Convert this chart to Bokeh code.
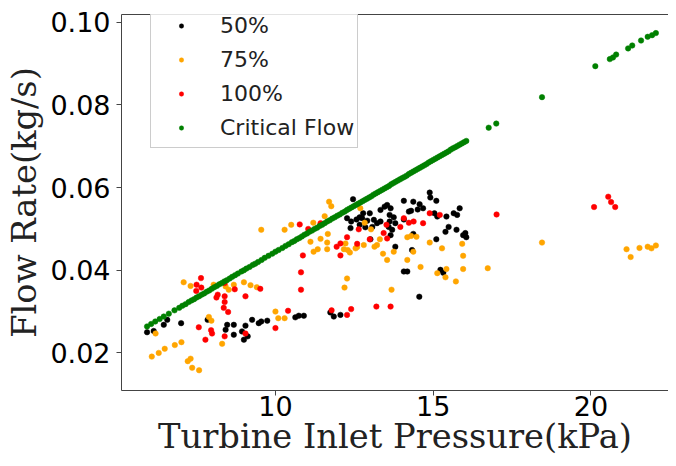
from bokeh.plotting import figure
from bokeh.models import Range1d, FixedTicker, PrintfTickFormatter, LinearAxis, Legend, LegendItem
from bokeh.embed import file_html
from bokeh.resources import INLINE

# ---- data ----
x_50 = [5.93, 6.14, 6.46, 6.57, 7.01, 7.85, 8.42, 8.47, 8.68, 8.68, 8.94, 9.05, 9.00, 9.12, 9.26, 9.47,
        9.55, 9.74, 10.63, 10.74, 10.90, 11.74, 11.85, 12.06, 12.46, 12.27, 12.40, 12.57, 12.67, 12.78,
        12.99, 12.91, 13.12, 13.22, 13.33, 13.46, 13.54, 13.65, 13.62, 13.75, 13.62, 13.80, 13.59, 13.70,
        13.65, 14.07, 14.37, 14.57, 14.68, 14.51, 14.30, 14.07, 14.23, 14.89, 14.91, 15.10, 15.84, 15.65,
        15.76, 15.13, 15.04, 15.42, 15.49, 15.39, 15.74, 16.02, 16.05, 15.95, 12.38, 12.67, 13.01, 14.37,
        15.10, 13.80, 14.33, 14.07, 14.18, 15.23, 15.32, 14.56, 12.75, 13.07, 12.85, 13.33]
y_50 = [0.0250, 0.0253, 0.0268, 0.0280, 0.0272, 0.0280, 0.0256, 0.0268, 0.0268, 0.0244, 0.0252, 0.0266,
        0.0232, 0.0240, 0.0280, 0.0272, 0.0276, 0.0278, 0.0286, 0.0290, 0.0290, 0.0298, 0.0288, 0.0292,
        0.0572, 0.0526, 0.0518, 0.0523, 0.0528, 0.0538, 0.0538, 0.0520, 0.0522, 0.0514, 0.0518, 0.0554,
        0.0558, 0.0550, 0.0534, 0.0528, 0.0518, 0.0514, 0.0505, 0.0498, 0.0485, 0.0568, 0.0566, 0.0560,
        0.0550, 0.0547, 0.0544, 0.0523, 0.0542, 0.0588, 0.0576, 0.0568, 0.0550, 0.0538, 0.0534, 0.0530,
        0.0538, 0.0530, 0.0505, 0.0493, 0.0498, 0.0490, 0.0480, 0.0485, 0.0502, 0.0510, 0.0475, 0.0488,
        0.0475, 0.0457, 0.0449, 0.0397, 0.0397, 0.0401, 0.0394, 0.0336, 0.0526, 0.0505, 0.0504, 0.0546]

x_75 = [7.09, 7.31, 8.04, 8.42, 8.52, 8.68, 9.00, 9.21, 9.41, 6.20, 7.89, 7.97, 8.31, 10.00, 10.09, 10.29,
        6.08, 6.30, 6.49, 6.81, 7.02, 7.22, 7.31, 7.36, 7.58, 11.70, 11.77, 11.56, 11.20, 11.43, 10.50,
        10.29, 9.55, 11.66, 11.11, 11.43, 11.64, 11.64, 11.34, 11.21, 12.22, 12.29, 12.17, 12.36, 12.59,
        12.83, 12.80, 13.14, 13.22, 12.27, 12.19, 12.69, 13.03, 12.54, 13.31, 14.18, 14.30, 14.47, 14.89,
        15.28, 15.92, 13.41, 13.54, 13.75, 14.18, 14.37, 14.60, 15.42, 15.13, 15.39, 15.95, 15.95, 15.72,
        16.73, 18.45, 21.13, 21.26, 21.54, 21.80, 21.92, 22.06, 13.68]
y_75 = [0.0371, 0.0362, 0.0365, 0.0361, 0.0353, 0.0365, 0.0371, 0.0364, 0.0359, 0.0247, 0.0287, 0.0278,
        0.0222, 0.0300, 0.0284, 0.0284, 0.0191, 0.0200, 0.0210, 0.0219, 0.0226, 0.0180, 0.0186, 0.0164,
        0.0158, 0.0566, 0.0555, 0.0531, 0.0515, 0.0511, 0.0510, 0.0498, 0.0498, 0.0488, 0.0469, 0.0476,
        0.0467, 0.0451, 0.0451, 0.0445, 0.0465, 0.0449, 0.0451, 0.0443, 0.0456, 0.0515, 0.0461, 0.0457,
        0.0461, 0.0380, 0.0358, 0.0550, 0.0499, 0.0453, 0.0475, 0.0480, 0.0483, 0.0481, 0.0467, 0.0453,
        0.0464, 0.0440, 0.0425, 0.0445, 0.0425, 0.0445, 0.0408, 0.0403, 0.0393, 0.0383, 0.0435, 0.0403,
        0.0373, 0.0405, 0.0467, 0.0451, 0.0432, 0.0454, 0.0457, 0.0453, 0.0460, 0.0353]

x_100 = [7.64, 7.50, 7.65, 7.49, 8.13, 8.17, 8.39, 8.39, 8.36, 8.50, 8.71, 9.05, 9.52, 8.39, 7.57, 7.96,
         7.99, 7.78, 8.39, 9.05, 10.00, 10.40, 10.77, 11.04, 11.43, 12.27, 12.06, 11.94, 12.06, 12.59,
         12.64, 12.99, 10.87, 10.81, 10.81, 11.78, 12.27, 12.40, 13.20, 13.65, 14.89, 15.21, 14.68, 14.07,
         14.23, 14.38, 13.52, 13.43, 13.54, 17.01, 20.10, 20.55, 20.64, 20.77, 13.96]
y_100 = [0.0381, 0.0365, 0.0358, 0.0350, 0.0334, 0.0341, 0.0337, 0.0323, 0.0309, 0.0299, 0.0354, 0.0337,
         0.0355, 0.0369, 0.0262, 0.0255, 0.0247, 0.0232, 0.0240, 0.0247, 0.0260, 0.0302, 0.0511, 0.0500,
         0.0514, 0.0480, 0.0465, 0.0457, 0.0436, 0.0464, 0.0499, 0.0475, 0.0436, 0.0395, 0.0353, 0.0303,
         0.0292, 0.0306, 0.0312, 0.0312, 0.0538, 0.0534, 0.0514, 0.0526, 0.0515, 0.0518, 0.0510, 0.0490,
         0.0477, 0.0535, 0.0553, 0.0578, 0.0565, 0.0553, 0.0505]

x_crit = [5.93, 6.06, 6.19, 6.33, 6.46, 6.62, 6.80, 6.95, 7.05, 7.15, 7.25, 7.34, 7.42, 7.50, 7.58, 7.66,
          7.74, 7.82, 7.90, 7.98, 8.06, 8.14, 8.22, 8.30, 8.38, 8.46, 8.55, 8.63, 8.72, 8.81, 8.92, 9.00,
          9.08, 9.18, 9.28, 9.36, 9.45, 9.56, 9.66, 9.78, 9.90, 10.00, 10.10, 10.22, 10.32, 10.42, 10.52,
          10.60, 10.68, 10.76, 10.84, 10.92, 11.00, 11.08, 11.16, 11.24, 11.32, 11.40, 11.48, 11.56, 11.64,
          11.72, 11.80, 11.88, 11.96, 12.04, 12.12, 12.20, 12.27, 12.34, 12.41, 12.48, 12.55, 12.62, 12.69,
          12.76, 12.83, 12.90, 12.97, 13.04, 13.11, 13.18, 13.25, 13.32, 13.39, 13.46, 13.53, 13.60, 13.67,
          13.74, 13.81, 13.88, 13.95, 14.02, 14.09, 14.16, 14.23, 14.30, 14.37, 14.44, 14.51, 14.58, 14.65,
          14.72, 14.79, 14.86, 14.93, 15.00, 15.07, 15.14, 15.21, 15.28, 15.35, 15.42, 15.49, 15.56, 15.63,
          15.70, 15.77, 15.84, 15.91, 15.98, 16.05,
          16.76, 17.00, 18.45, 20.14, 20.60, 20.70, 20.80, 21.18, 21.31, 21.59, 21.80, 21.94, 22.06]
y_crit = [0.0264, 0.0270, 0.0276, 0.0282, 0.0288, 0.0295, 0.0303, 0.0309, 0.0314, 0.0318, 0.0323, 0.0327,
          0.0330, 0.0334, 0.0337, 0.0341, 0.0344, 0.0348, 0.0351, 0.0355, 0.0359, 0.0362, 0.0366, 0.0369,
          0.0373, 0.0376, 0.0380, 0.0384, 0.0388, 0.0392, 0.0397, 0.0400, 0.0404, 0.0408, 0.0413, 0.0416,
          0.0420, 0.0425, 0.0430, 0.0435, 0.0440, 0.0445, 0.0449, 0.0454, 0.0459, 0.0463, 0.0468, 0.0471,
          0.0475, 0.0478, 0.0482, 0.0486, 0.0489, 0.0493, 0.0496, 0.0500, 0.0503, 0.0507, 0.0510, 0.0514,
          0.0518, 0.0521, 0.0525, 0.0528, 0.0532, 0.0535, 0.0539, 0.0542, 0.0546, 0.0549, 0.0552, 0.0555,
          0.0558, 0.0561, 0.0564, 0.0567, 0.0570, 0.0573, 0.0576, 0.0579, 0.0583, 0.0586, 0.0589, 0.0592,
          0.0595, 0.0598, 0.0601, 0.0604, 0.0608, 0.0611, 0.0614, 0.0617, 0.0620, 0.0623, 0.0626, 0.0629,
          0.0633, 0.0636, 0.0639, 0.0642, 0.0645, 0.0648, 0.0651, 0.0654, 0.0657, 0.0661, 0.0664, 0.0667,
          0.0670, 0.0673, 0.0676, 0.0679, 0.0682, 0.0685, 0.0688, 0.0692, 0.0695, 0.0698, 0.0701, 0.0704,
          0.0707, 0.0710, 0.0713,
          0.0745, 0.0755, 0.0819, 0.0894, 0.0911, 0.0915, 0.0922, 0.0937, 0.0944, 0.0956, 0.0965, 0.0969, 0.0974]

series_names = ["50%", "75%", "100%", "Critical Flow"]
series_colors = ["black", "orange", "red", "green"]
x_ticks = [10, 15, 20]
y_ticks = [0.02, 0.04, 0.06, 0.08, 0.10]
x_label = "Turbine Inlet Pressure(kPa)"
y_label = "Flow Rate(kg/s)"

W, H = 668, 458
LEFT, TOP, BOTTOM = 121, 14, 67
p = figure(width=W, height=H, output_backend="svg", toolbar_location=None,
           x_range=Range1d(5.12, 22.46), y_range=Range1d(0.0109, 0.1019),
           min_border_left=LEFT, min_border_right=0, min_border_top=TOP, min_border_bottom=BOTTOM)
p.xgrid.visible = False
p.ygrid.visible = False
p.background_fill_color = "white"
p.border_fill_color = "white"
p.outline_line_color = None

spine = "#444444"
tick_font = "DejaVu Sans"
label_font = "DejaVu Serif"

for ax in (p.xaxis[0], p.yaxis[0]):
    ax.axis_line_color = spine
    ax.axis_line_width = 1
    ax.major_tick_line_color = spine
    ax.major_tick_out = 5
    ax.major_tick_in = 0
    ax.minor_tick_line_color = None
    ax.major_label_text_font = tick_font
    ax.major_label_text_font_size = "27px"
    ax.major_label_text_color = "black"
    ax.axis_label_text_font = label_font
    ax.axis_label_text_font_size = "33.7px"
    ax.axis_label_text_font_style = "normal"
    ax.axis_label_text_color = "#222222"

p.xaxis[0].ticker = FixedTicker(ticks=x_ticks)
p.yaxis[0].ticker = FixedTicker(ticks=y_ticks)
p.yaxis[0].formatter = PrintfTickFormatter(format="%.2f")
p.xaxis[0].major_label_standoff = 0
p.xaxis[0].major_label_text_line_height = 1.0
p.xaxis[0].axis_label_text_line_height = 1.0
p.yaxis[0].major_label_standoff = 6
p.xaxis[0].axis_label = x_label
p.xaxis[0].axis_label_standoff = -2
p.yaxis[0].axis_label = y_label
p.yaxis[0].axis_label_standoff = 3

top = LinearAxis(ticker=FixedTicker(ticks=[]), axis_line_color=spine, axis_line_width=1,
                 major_tick_out=0, major_tick_in=0, minor_tick_out=0, minor_tick_in=0,
                 major_label_standoff=0, axis_label_standoff=0)
p.add_layout(top, "above")

renderers = []
for xs, ys, c in zip([x_50, x_75, x_100, x_crit], [y_50, y_75, y_100, y_crit], series_colors):
    r = p.scatter(xs, ys, size=5.5, fill_color=c, line_color=c, line_width=0.5)
    renderers.append(r)

legend = Legend(items=[LegendItem(label=n, renderers=[r]) for n, r in zip(series_names, renderers)],
                location=(29, 242), padding=3, margin=0, spacing=0,
                glyph_width=54, glyph_height=11, label_height=34, label_standoff=12,
                label_text_font=tick_font, label_text_font_size="22px", label_text_color="#222222",
                border_line_color="#cccccc", border_line_width=1, border_line_alpha=1.0,
                background_fill_color="white", background_fill_alpha=0.85)
p.add_layout(legend, "center")

open("out.html", "w").write(file_html(p, INLINE))
